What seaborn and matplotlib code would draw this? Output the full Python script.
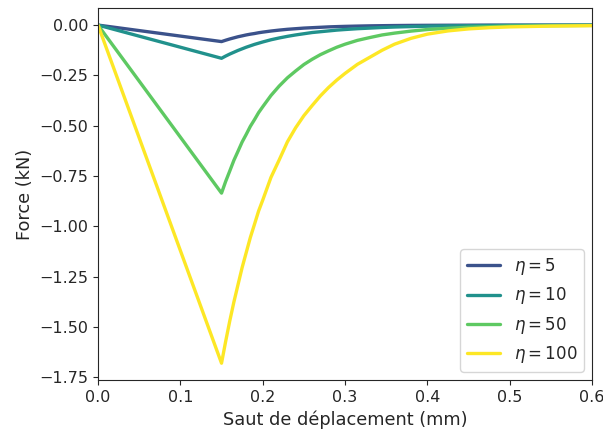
import pandas as pd
import seaborn as sns
import matplotlib.pyplot as plt

# Values (displacement jump in mm, force in kN)
saut = [0.0, 0.15, 0.155, 0.16, 0.165, 0.17, 0.175, 0.18, 0.185, 0.19, 0.195, 0.20,
        0.21, 0.22, 0.23, 0.24, 0.25, 0.26, 0.27, 0.28, 0.29, 0.30,
        0.315, 0.33, 0.345, 0.36, 0.38, 0.40, 0.425, 0.45, 0.475, 0.50, 0.55, 0.60]

f_eta5 = [0.0, -0.082, -0.0753, -0.069, -0.0635, -0.058, -0.0536, -0.049, -0.0452, -0.042, -0.0381, -0.035,
          -0.0296, -0.025, -0.021, -0.018, -0.015, -0.013, -0.011, -0.009, -0.0076, -0.0064,
          -0.005, -0.0038, -0.003, -0.0023, -0.0016, -0.0012, -0.0008, -0.0005, -0.0003, -0.0002, -0.0001, 0.0]

f_eta10 = [0.0, -0.165, -0.154, -0.144, -0.135, -0.126, -0.118, -0.110, -0.103, -0.096, -0.090, -0.084,
           -0.073, -0.064, -0.056, -0.049, -0.043, -0.037, -0.033, -0.029, -0.025, -0.022,
           -0.018, -0.015, -0.012, -0.0097, -0.0075, -0.0056, -0.004, -0.0029, -0.002, -0.0015, -0.0007, -0.0004]

f_eta50 = [0.0, -0.835, -0.777, -0.725, -0.672, -0.627, -0.581, -0.543, -0.503, -0.470, -0.435, -0.406,
           -0.350, -0.303, -0.262, -0.228, -0.196, -0.170, -0.147, -0.128, -0.110, -0.095,
           -0.076, -0.062, -0.049, -0.040, -0.030, -0.022, -0.016, -0.011, -0.008, -0.005, -0.003, -0.0015]

f_eta100 = [0.0, -1.68, -1.572, -1.47, -1.376, -1.29, -1.205, -1.13, -1.055, -0.99, -0.924, -0.87,
            -0.757, -0.67, -0.58, -0.51, -0.45, -0.40, -0.352, -0.31, -0.273, -0.24,
            -0.195, -0.16, -0.125, -0.095, -0.066, -0.045, -0.029, -0.019, -0.013, -0.009, -0.005, -0.003]

labels = [r'$\eta = 5$', r'$\eta = 10$', r'$\eta = 50$', r'$\eta = 100$']
colors = ['#3b528b', '#21918c', '#5ec962', '#fde725']

# Long-form table for seaborn
frames = []
for lab, fs in zip(labels, [f_eta5, f_eta10, f_eta50, f_eta100]):
    frames.append(pd.DataFrame({'saut': saut, 'force': fs, 'eta': lab}))
df = pd.concat(frames, ignore_index=True)

sns.set_style('ticks')
fig = plt.figure(figsize=(6.03, 4.30), dpi=100)
ax = fig.add_axes([0.1625, 0.116, 0.8195, 0.865])

sns.lineplot(data=df, x='saut', y='force', hue='eta', hue_order=labels, palette=colors,
             linewidth=2.4, ax=ax)

ax.set_xlim(0, 0.6)
ax.set_ylim(-1.764, 0.084)
ax.set_xlabel('Saut de déplacement (mm)', fontsize=12.8)
ax.set_ylabel('Force (kN)', fontsize=12.8)
ax.tick_params(labelsize=11.5)
ax.legend(loc='lower right', fontsize=12, title=None)

plt.savefig('out.png', dpi=100)
